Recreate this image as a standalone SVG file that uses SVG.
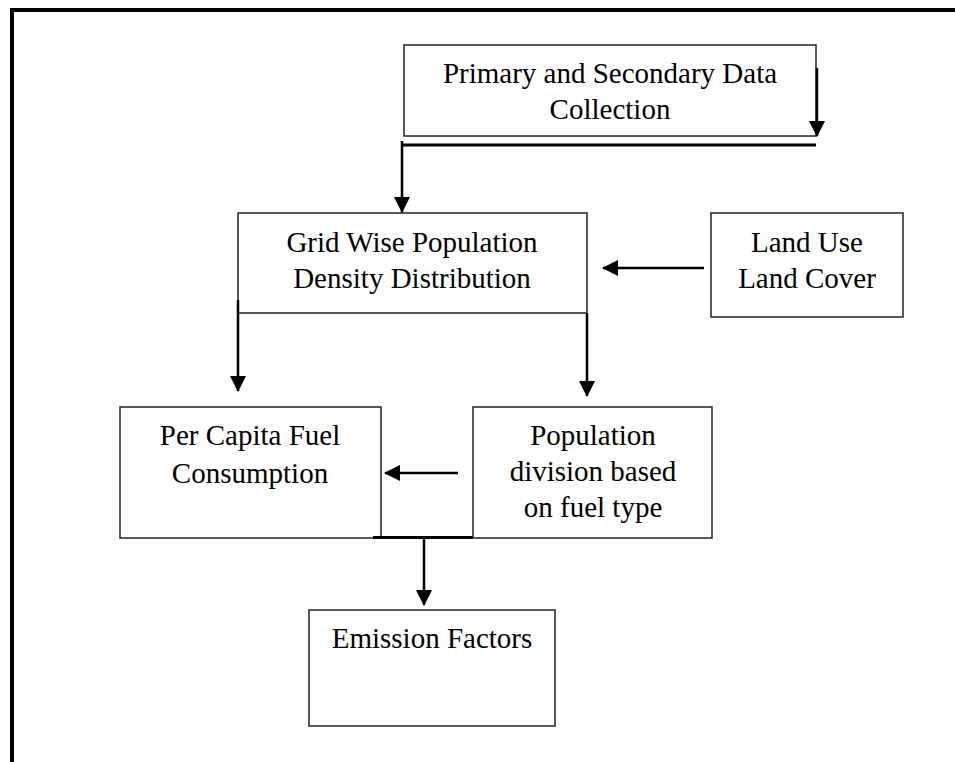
<svg xmlns="http://www.w3.org/2000/svg" width="955" height="762" viewBox="0 0 955 762">
<style>
.box{fill:#fff;stroke:#222;stroke-width:1.5}
.t{font-family:"Liberation Serif","Times New Roman",serif;font-size:29px;fill:#000;text-anchor:middle}
.c{stroke:#000;stroke-width:2.5;fill:none}
.ca{stroke:#000;stroke-width:2.5;fill:none;marker-end:url(#ah)}
.thick{stroke:#000;stroke-width:3;fill:none}
</style>
<defs>
<marker id="ah" markerUnits="userSpaceOnUse" markerWidth="16" markerHeight="16" refX="15" refY="8" orient="auto" viewBox="0 0 16 16">
<path d="M0,0 L16,8 L0,16 z" fill="#000"/>
</marker>
</defs>
<rect width="955" height="762" fill="#fff"/>
<g id="border">
<line x1="10" y1="10" x2="955" y2="10" stroke="#000" stroke-width="4"/>
<line x1="12" y1="8" x2="12" y2="762" stroke="#000" stroke-width="4"/>
</g>
<g id="n-primary">
<rect class="box" x="404" y="45" width="412" height="91"/>
<text class="t" x="610" y="83">Primary and Secondary Data</text>
<text class="t" x="610" y="119">Collection</text>
</g>
<g id="n-grid">
<rect class="box" x="238" y="213" width="349" height="100"/>
<text class="t" x="412" y="252">Grid Wise Population</text>
<text class="t" x="412" y="288">Density Distribution</text>
</g>
<g id="n-landuse">
<rect class="box" x="711" y="213" width="192" height="104"/>
<text class="t" x="807" y="252">Land Use</text>
<text class="t" x="807" y="288">Land Cover</text>
</g>
<g id="n-percapita">
<rect class="box" x="120" y="407" width="261" height="131"/>
<text class="t" x="250" y="445">Per Capita Fuel</text>
<text class="t" x="250" y="483">Consumption</text>
</g>
<g id="n-popdiv">
<rect class="box" x="473" y="407" width="239" height="131"/>
<text class="t" x="593" y="445">Population</text>
<text class="t" x="593" y="481">division based</text>
<text class="t" x="593" y="517">on fuel type</text>
</g>
<g id="n-emission">
<rect class="box" x="309" y="610" width="246" height="116"/>
<text class="t" x="432" y="648">Emission Factors</text>
</g>
<g id="connectors">
<line class="ca" x1="817" y1="68" x2="817" y2="136"/>
<line class="thick" x1="401" y1="145" x2="816" y2="145"/>
<line class="ca" x1="402" y1="141" x2="402" y2="212"/>
<line class="ca" x1="704" y1="268" x2="603" y2="268"/>
<line class="ca" x1="238" y1="300" x2="238" y2="391"/>
<line class="ca" x1="587" y1="313" x2="587" y2="396"/>
<line class="ca" x1="458" y1="473" x2="385" y2="473"/>
<line class="thick" x1="373" y1="537.5" x2="473" y2="537.5"/>
<line class="ca" x1="424" y1="537" x2="424" y2="605"/>
</g>
</svg>
